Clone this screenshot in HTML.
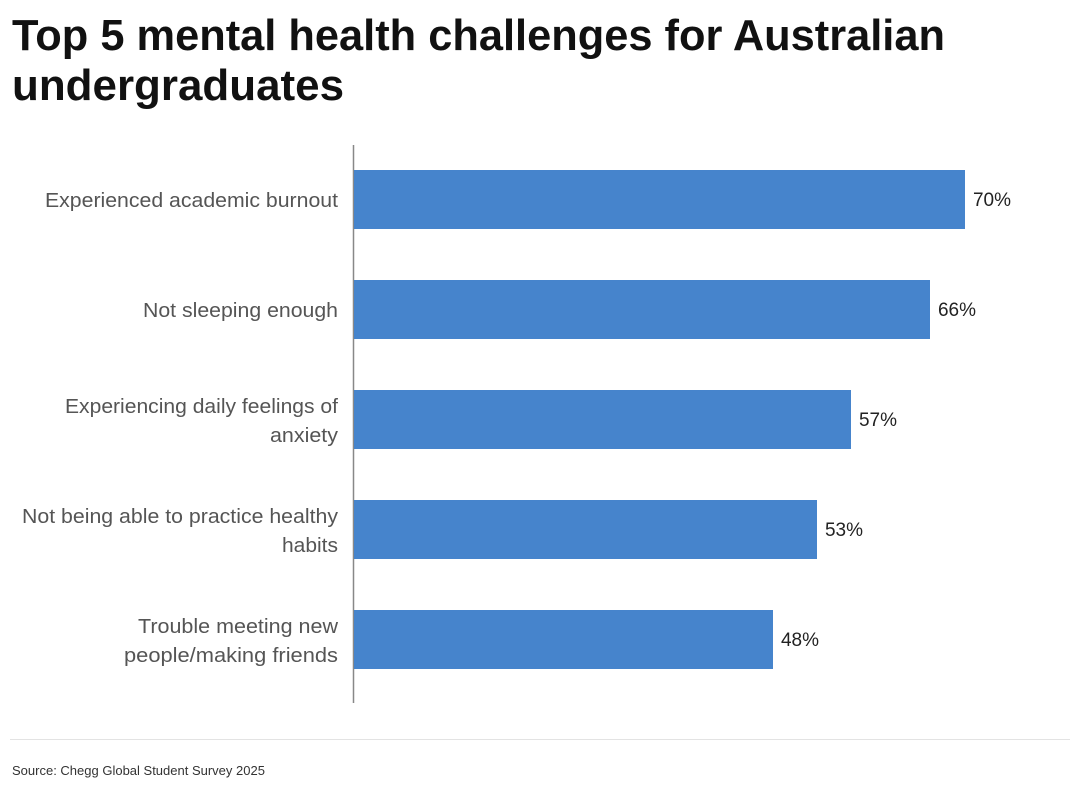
<!DOCTYPE html>
<html><head><meta charset="utf-8"><style>
html,body{margin:0;padding:0;background:#fff;width:1080px;height:796px;overflow:hidden}
</style></head><body>
<svg width="1080" height="796" xmlns="http://www.w3.org/2000/svg" font-family="Liberation Sans, sans-serif">
<rect width="1080" height="796" fill="#fff"/>
<text x="12" y="50" font-size="44" font-weight="bold" fill="#111" textLength="933" lengthAdjust="spacingAndGlyphs">Top 5 mental health challenges for Australian</text>
<text x="12" y="100" font-size="44" font-weight="bold" fill="#111" textLength="332" lengthAdjust="spacingAndGlyphs">undergraduates</text>
<line x1="353.5" y1="145" x2="353.5" y2="703" stroke="#888" stroke-width="1.5"/>
<g fill="#4684cc">
<rect x="354" y="170" width="611" height="59"/>
<rect x="354" y="280" width="576" height="59"/>
<rect x="354" y="390" width="497" height="59"/>
<rect x="354" y="500" width="463" height="59"/>
<rect x="354" y="610" width="419" height="59"/>
</g>
<g font-size="20" fill="#555">
<text x="45" y="207" textLength="293" lengthAdjust="spacingAndGlyphs">Experienced academic burnout</text>
<text x="143" y="317" textLength="195" lengthAdjust="spacingAndGlyphs">Not sleeping enough</text>
<text x="65" y="413" textLength="273" lengthAdjust="spacingAndGlyphs">Experiencing daily feelings of</text>
<text x="270" y="442" textLength="68" lengthAdjust="spacingAndGlyphs">anxiety</text>
<text x="22" y="523" textLength="316" lengthAdjust="spacingAndGlyphs">Not being able to practice healthy</text>
<text x="282" y="552" textLength="56" lengthAdjust="spacingAndGlyphs">habits</text>
<text x="138" y="633" textLength="200" lengthAdjust="spacingAndGlyphs">Trouble meeting new</text>
<text x="124" y="662" textLength="214" lengthAdjust="spacingAndGlyphs">people/making friends</text>
</g>
<g font-size="19" fill="#222">
<text x="973" y="206" textLength="38" lengthAdjust="spacingAndGlyphs">70%</text>
<text x="938" y="316" textLength="38" lengthAdjust="spacingAndGlyphs">66%</text>
<text x="859" y="426" textLength="38" lengthAdjust="spacingAndGlyphs">57%</text>
<text x="825" y="536" textLength="38" lengthAdjust="spacingAndGlyphs">53%</text>
<text x="781" y="646" textLength="38" lengthAdjust="spacingAndGlyphs">48%</text>
</g>
<line x1="10" y1="739.5" x2="1070" y2="739.5" stroke="#e3e3e3" stroke-width="1"/>
<text x="12" y="775" font-size="13" fill="#333">Source: Chegg Global Student Survey 2025</text>
</svg>
</body></html>
